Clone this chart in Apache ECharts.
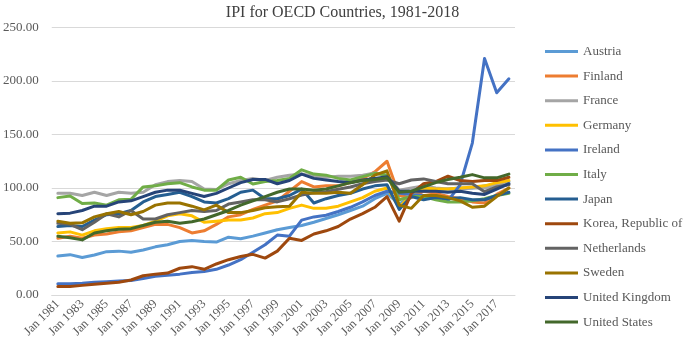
<!DOCTYPE html>
<html>
<head>
<meta charset="utf-8">
<script src="https://cdn.jsdelivr.net/npm/echarts@6/dist/echarts.min.js"></script>
<style>
  html, body { margin: 0; padding: 0; background: #fff; }
  #chart { width: 685px; height: 349px; }
</style>
</head>
<body>
<div id="chart"></div>
<script>
// Years on the category axis (January readings)
const years = [1981, 1982, 1983, 1984, 1985, 1986, 1987, 1988, 1989, 1990,
  1991, 1992, 1993, 1994, 1995, 1996, 1997, 1998, 1999, 2000,
  2001, 2002, 2003, 2004, 2005, 2006, 2007, 2008, 2009, 2010,
  2011, 2012, 2013, 2014, 2015, 2016, 2017, 2018];
const categories = years.map(y => 'Jan ' + y);

const yTicks = [0, 50, 100, 150, 200, 250];

// IPI values
const austria = [36.4, 37.7, 35, 37.4, 40.5, 41, 40, 42, 45, 47, 50, 51, 50, 49.5, 54, 52.5, 55, 58, 61, 63, 65, 68, 71.5, 75, 79, 83, 90, 95, 85, 92, 98, 98, 99, 100, 100, 102, 103, 106];
const finland = [53, 55, 53, 56, 57, 59, 60, 63, 66, 66, 63, 58, 60, 66, 73, 75, 80, 84, 88, 97, 106, 101, 102, 102, 105, 109, 115, 125, 93, 91, 97, 95, 92, 90, 87, 86, 94, 100];
const france = [95, 95, 93, 96, 93, 96, 95, 96, 103, 106, 107, 106, 99, 98.5, 104, 107, 109, 107, 110, 112, 113, 111, 110, 111, 111, 112, 114, 112, 98, 100, 102, 100, 99, 99, 100, 100, 103, 104];
const germany = [58, 59, 56, 60, 62, 63, 63, 65, 69, 74, 76, 74, 68, 69, 70, 70, 72, 76, 77, 81, 84, 81, 81, 83, 87, 91, 97, 100, 82, 94, 100, 99, 99, 100, 101, 102, 105, 107];
const ireland = [10.5, 10.5, 11, 12, 12.5, 13, 13.5, 15.5, 17.5, 18.5, 19.5, 21, 22, 24, 28, 33, 40, 47, 56, 55, 70, 73, 74.5, 78, 82, 87, 93, 97, 95, 94, 93, 93, 88, 103, 142, 221, 189, 202];
const italy = [91, 92.5, 85.5, 86, 84, 89, 89.5, 101, 102, 104, 105, 101, 98, 98, 107.5, 110, 103.7, 106, 107, 109, 117, 113, 112, 109, 107.5, 110.6, 113.7, 112, 89, 92, 92, 89, 87, 87, 88, 90, 93, 95];
const japan = [64, 65, 64, 70, 75, 76, 79, 87, 92, 94, 96, 92, 87, 86, 90, 96, 98, 90, 90, 93, 99, 86, 90, 93, 95, 99, 102, 103, 80, 92, 89, 91, 90, 91, 89, 89, 93, 96];
const korea = [8, 8, 9, 10, 11, 12, 14, 18, 19.5, 20.5, 25, 26.5, 24, 29, 33, 36, 38, 34.5, 41, 53, 51, 57, 60, 64, 71, 76, 82, 92, 69, 95, 104, 106, 111, 107, 106, 107, 107, 110];
const netherlands = [67, 66, 61, 68, 76, 73, 79, 71, 71, 75, 77, 79, 78, 79, 85, 87, 89, 89, 87, 90, 93.5, 95.6, 96.6, 98.8, 101, 104, 106, 107.5, 104, 107.5, 108.5, 106, 104, 104, 104, 96.6, 101, 103];
const sweden = [69, 67, 67.5, 73, 76, 78, 75, 78, 84, 86, 86, 83, 79.5, 84, 77, 77, 79, 81.5, 82.5, 83, 96, 95, 95, 96, 95, 103, 112, 116, 84, 81, 93, 93, 91, 88, 82, 83, 92, 100];
const unitedKingdom = [76, 76.5, 79, 83, 83, 87, 88, 92, 96, 98, 98, 95, 92, 95, 100, 105, 108, 108, 104, 107, 113, 109, 107.5, 106, 105, 107.5, 109, 110.5, 97, 97, 97, 97, 96, 97, 95, 94, 99, 104];
const unitedStates = [55, 53.5, 51.5, 58, 60, 61.5, 62, 65, 68, 69, 67, 68.5, 71, 75, 79, 84, 88, 92, 96, 99, 99, 98, 99, 102, 105, 107, 108, 109.5, 96, 97, 101, 105, 108, 110, 112.5, 109.5, 109.5, 113];

const countries = [
  ['Austria', austria, '#5B9BD5'],
  ['Finland', finland, '#ED7D31'],
  ['France', france, '#A5A5A5'],
  ['Germany', germany, '#FFC000'],
  ['Ireland', ireland, '#4472C4'],
  ['Italy', italy, '#70AD47'],
  ['Japan', japan, '#255E91'],
  ['Korea, Republic of', korea, '#9E480E'],
  ['Netherlands', netherlands, '#636363'],
  ['Sweden', sweden, '#997300'],
  ['United Kingdom', unitedKingdom, '#264478'],
  ['United States', unitedStates, '#43682B']
];

const serif = '"Liberation Serif", "Times New Roman", serif';
const textGray = '#595959';

const chart = echarts.init(document.getElementById('chart'), null, { renderer: 'canvas' });

chart.setOption({
  animation: false,
  backgroundColor: '#fff',
  title: {
    text: 'IPI for OECD Countries, 1981-2018',
    left: 'center',
    top: 0,
    textStyle: { fontFamily: serif, fontSize: 16, fontWeight: 'normal', color: '#404040' }
  },
  legend: {
    orient: 'vertical',
    left: 540,
    top: 39,
    icon: 'rect',
    itemWidth: 33,
    itemHeight: 3,
    itemGap: 9.6,
    data: countries.map(c => c[0]),
    textStyle: { fontFamily: serif, fontSize: 13, color: textGray, lineHeight: 15 }
  },
  grid: { left: 51, right: 170, top: 27.5, bottom: 54, containLabel: false },
  xAxis: {
    type: 'category',
    data: categories,
    boundaryGap: true,
    axisLine: { show: true, lineStyle: { color: '#d9d9d9', width: 1 } },
    axisTick: { show: false },
    axisLabel: {
      interval: 1,
      rotate: 45,
      margin: 7,
      fontFamily: serif,
      fontSize: 12.5,
      color: textGray
    },
    splitLine: { show: false }
  },
  yAxis: {
    type: 'value',
    min: yTicks[0],
    max: yTicks[yTicks.length - 1],
    interval: 50,
    axisLine: { show: false },
    axisTick: { show: false },
    axisLabel: {
      margin: 13,
      fontFamily: serif,
      fontSize: 13,
      color: textGray,
      formatter: v => v.toFixed(2)
    },
    splitLine: { lineStyle: { color: '#d9d9d9', width: 1 } }
  },
  series: countries.map(([name, values, color]) => ({
    name: name,
    type: 'line',
    data: values,
    symbol: 'none',
    smooth: false,
    color: color,
    lineStyle: { color: color, width: 3, join: 'round', cap: 'round' }
  }))
});
</script>
</body>
</html>
